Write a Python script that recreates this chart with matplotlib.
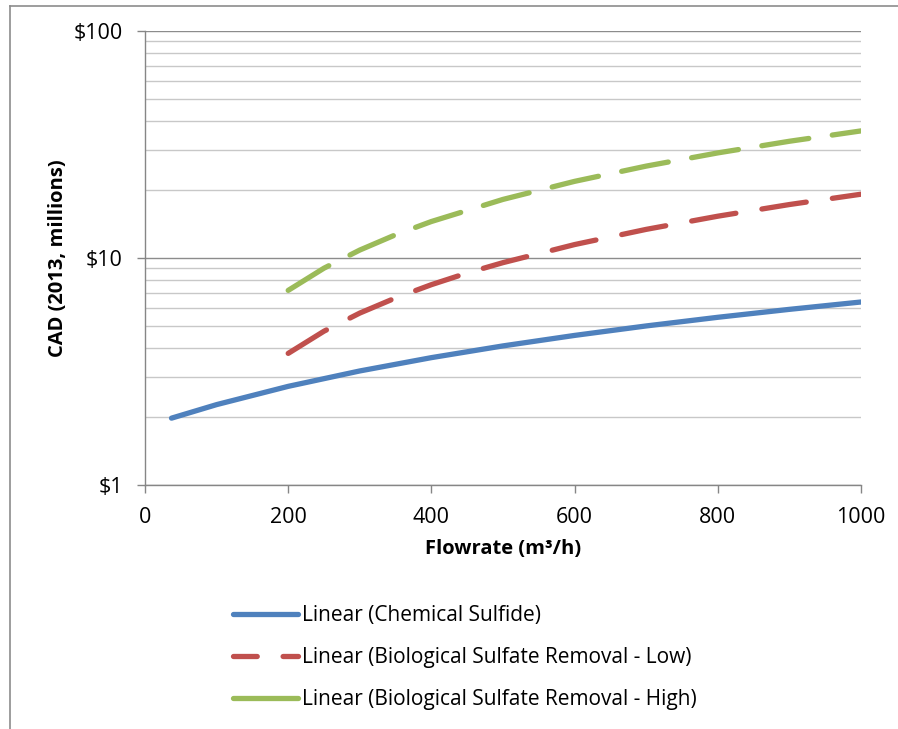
import matplotlib
matplotlib.use("Agg")
import matplotlib.pyplot as plt
from matplotlib.lines import Line2D
from matplotlib.ticker import FixedLocator, FuncFormatter, NullFormatter, NullLocator

# ---- data ----
chem_x = [37, 100, 200, 300, 400, 500, 600, 700, 800, 900, 1000]
chem_y = [1.97, 2.26, 2.72, 3.18, 3.64, 4.10, 4.56, 5.02, 5.48, 5.94, 6.40]

bio_low_x = [200, 250, 300, 350, 400, 450, 500, 600, 700, 800, 900, 1000]
bio_low_y = [3.80, 4.76, 5.72, 6.67, 7.63, 8.59, 9.54, 11.46, 13.37, 15.28, 17.20, 19.10]

bio_high_x = [200, 250, 300, 350, 400, 500, 600, 700, 800, 900, 1000]
bio_high_y = [7.20, 9.02, 10.84, 12.66, 14.48, 18.12, 21.76, 25.40, 29.04, 32.68, 36.30]

series_labels = [
    "Linear (Chemical Sulfide)",
    "Linear (Biological Sulfate Removal - Low)",
    "Linear (Biological Sulfate Removal - High)",
]
x_ticks = [0, 200, 400, 600, 800, 1000]
y_major = [1, 10, 100]
y_tick_labels = ["$1", "$10", "$100"]
y_minor = [2, 3, 4, 5, 6, 7, 8, 9, 20, 30, 40, 50, 60, 70, 80, 90]

c_blue = "#4F81BD"
c_red = "#C0504D"
c_green = "#9BBB59"
c_axis = "#868686"
c_grid = "#C8C8C8"

plt.rcParams["font.family"] = ["Open Sans", "DejaVu Sans"]

fig = plt.figure(figsize=(8.98, 7.29), dpi=100)
ax = fig.add_axes([145 / 898, 1 - 485 / 729, (861 - 145) / 898, (485 - 31) / 729])

lw = 3.8
ax.plot(chem_x, chem_y, color=c_blue, lw=lw, solid_capstyle="round", zorder=3)
ax.plot(bio_low_x, bio_low_y, color=c_red, lw=lw, dash_capstyle="round",
        linestyle=(0, (8.5, 5.0)), zorder=3)
ax.plot(bio_high_x, bio_high_y, color=c_green, lw=lw, dash_capstyle="round",
        linestyle=(0, (9.0, 4.5)), zorder=3)

ax.set_yscale("log")
ax.set_ylim(1, 100)
ax.set_xlim(0, 1000)

ax.yaxis.set_major_locator(FixedLocator(y_major))
ax.yaxis.set_major_formatter(FuncFormatter(lambda v, p: y_tick_labels[y_major.index(round(v))] if round(v) in y_major else ""))
ax.yaxis.set_minor_locator(FixedLocator(y_minor))
ax.yaxis.set_minor_formatter(NullFormatter())
ax.xaxis.set_major_locator(FixedLocator(x_ticks))
ax.xaxis.set_minor_locator(NullLocator())

ax.grid(False)
ax.yaxis.grid(True, which="major", color="#8C8C8C", lw=1.0, zorder=1)
ax.yaxis.grid(True, which="minor", color=c_grid, lw=1.0, zorder=1)

for s in ["top", "right"]:
    ax.spines[s].set_visible(False)
for s in ["left", "bottom"]:
    ax.spines[s].set_color(c_axis)
    ax.spines[s].set_linewidth(1.0)

ax.tick_params(axis="both", which="major", direction="out", length=6, width=1,
               color=c_axis, labelsize=15.5, labelcolor="black")
ax.tick_params(axis="y", which="major", pad=10)
ax.tick_params(axis="x", which="major", pad=10)
ax.tick_params(axis="y", which="minor", length=0)

ax.set_xlabel("Flowrate (m³/h)", fontsize=14.5, fontweight="bold", labelpad=8)
ax.set_ylabel("CAD (2013, millions)", fontsize=14.5, fontweight="bold", labelpad=4)

handles = [
    Line2D([0], [0], color=c_blue, lw=lw, solid_capstyle="round"),
    Line2D([0], [0], color=c_red, lw=lw, dash_capstyle="round", linestyle=(0, (4.5, 4.9))),
    Line2D([0], [0], color=c_green, lw=lw, solid_capstyle="round"),
]
fig.legend(handles, series_labels, loc="upper left", bbox_to_anchor=(233 / 898, 1 - 605 / 729),
           frameon=False, fontsize=15, handlelength=3.1, handletextpad=0.2,
           labelspacing=1.02, borderpad=0, borderaxespad=0)

# outer chart-area border (top and left edges visible in the reference)
fig.add_artist(Line2D([9.5 / 898, 9.5 / 898], [0, 1 - 5.5 / 729], transform=fig.transFigure,
                      color="#8C8C8C", lw=1.2))
fig.add_artist(Line2D([9.5 / 898, 1], [1 - 5.5 / 729, 1 - 5.5 / 729], transform=fig.transFigure,
                      color="#8C8C8C", lw=1.2))

fig.savefig("out.png", dpi=100, facecolor="white")
